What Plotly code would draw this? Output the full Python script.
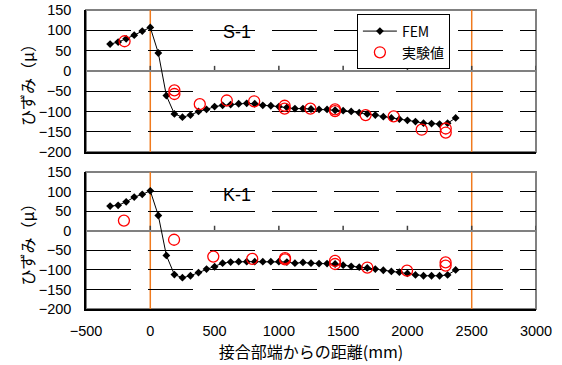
import plotly.graph_objects as go

# ---------------- data ----------------
fem_x = [-312.5, -250, -187.5, -125, -62.5, 0, 62.5, 125, 187.5, 250, 312.5, 375,
         437.5, 500, 562.5, 625, 687.5, 750, 812.5, 875, 937.5, 1000, 1062.5, 1125,
         1187.5, 1250, 1312.5, 1375, 1437.5, 1500, 1562.5, 1625, 1687.5, 1750, 1812.5,
         1875, 1937.5, 2000, 2062.5, 2125, 2187.5, 2250, 2312.5, 2375]

fem_s1 = [66, 71, 79, 88, 98, 107, 44, -61, -106, -114, -109, -100,
          -95, -88, -85, -83, -81, -80, -81, -85, -86, -88, -90, -93,
          -93, -94, -95, -95, -97, -98, -100, -103, -106, -109, -113,
          -116, -119, -122, -125, -129, -130, -131, -129, -116]

fem_k1 = [63, 65, 74, 86, 93, 102, 39, -63, -112, -120, -115, -107,
          -98, -92, -83, -80, -79, -79, -79, -79, -79, -79, -80, -83,
          -81, -83, -84, -84, -85, -88, -91, -93, -95, -98, -101,
          -104, -106, -109, -113, -115, -115, -115, -113, -100]

exp_s1_x = [-200, 187.5, 187.5, 385, 595, 808, 1045, 1045, 1245, 1437, 1437, 1675, 1893, 2111, 2298, 2298]
exp_s1_y = [73, -48, -57, -82, -73, -75, -86, -93, -93, -95, -99, -109, -112, -145, -142, -152]

exp_k1_x = [-205, 185, 490, 793, 1048, 1048, 1437, 1437, 1688, 1997, 2297, 2297]
exp_k1_y = [26, -23, -66, -72, -70, -73, -77, -85, -94, -102, -81, -89]

x_ticks = [-500, 0, 500, 1000, 1500, 2000, 2500, 3000]
y_ticks = [-200, -150, -100, -50, 0, 50, 100, 150]
support_lines = [0, 2500]
panel_labels = ["S-1", "K-1"]

series_names = ["FEM", "実験値"]
x_title = "接合部端からの距離(mm)"
y_title = "ひずみ（μ）"

# ---------------- figure ----------------
LAT = "Liberation Sans, Arial, sans-serif"
JP = "Noto Sans CJK JP, sans-serif"

fig = go.Figure()

panels = [("x", "y", fem_s1, exp_s1_x, exp_s1_y, True),
          ("x2", "y2", fem_k1, exp_k1_x, exp_k1_y, False)]

for xa, ya, fem_y, ex, ey, show in panels:
    fig.add_trace(go.Scatter(
        x=fem_x, y=fem_y, xaxis=xa, yaxis=ya, mode="lines+markers",
        name=series_names[0], showlegend=show,
        line=dict(color="black", width=1),
        marker=dict(symbol="diamond", size=6, color="black"),
    ))
    fig.add_trace(go.Scatter(
        x=ex, y=ey, xaxis=xa, yaxis=ya, mode="markers",
        name=series_names[1], showlegend=show,
        marker=dict(symbol="circle-open", size=11, color="#FF0000",
                    line=dict(width=1.3, color="#FF0000")),
    ))

axis_common = dict(range=[-500, 3000], tickvals=x_ticks, showgrid=False,
                   zeroline=False, showline=True, linecolor="black", linewidth=1.5,
                   ticks="", automargin=False,
                   tickfont=dict(family=LAT, size=14.5, color="black"))
yaxis_common = dict(range=[-200, 150], tickvals=y_ticks, showgrid=True,
                    gridcolor="black", gridwidth=1, griddash="45px,17px",
                    zeroline=True, zerolinecolor="#808080", zerolinewidth=2,
                    showline=True, linecolor="black", linewidth=1.5,
                    ticks="", ticklabelstandoff=10, automargin=False,
                    tickfont=dict(family=LAT, size=14.5, color="black"),
                    title=dict(text=y_title, font=dict(family=JP, size=16, color="black"),
                               standoff=0))

fig.update_layout(
    width=562, height=365,
    margin=dict(l=86, r=26, t=10, b=56),
    paper_bgcolor="white", plot_bgcolor="white",
    xaxis=dict(**axis_common, domain=[0, 1], anchor="y", showticklabels=False),
    yaxis=dict(**yaxis_common, domain=[0.525, 1], anchor="x"),
    xaxis2=dict(**axis_common, domain=[0, 1], anchor="y2", ticklabelstandoff=8,
                title=dict(text=x_title, font=dict(family=JP, size=16, color="black"),
                           standoff=2)),
    yaxis2=dict(**yaxis_common, domain=[0, 0.458], anchor="x2"),
    legend=dict(x=0.602, y=0.985, xanchor="left", yanchor="top",
                bgcolor="white", bordercolor="black", borderwidth=1,
                font=dict(family=JP, size=14, color="black"),
                tracegroupgap=0, itemwidth=34),
    showlegend=True,
)

shapes = []
annotations = []
for (xa, ya, _, _, _, _), label, ylab in zip(panels, panel_labels, [95, 92]):
    xr = xa
    yr = ya
    # gray plot-area frame
    shapes.append(dict(type="rect", xref=f"{xr} domain", yref=f"{yr} domain",
                       x0=0, x1=1, y0=0, y1=1, line=dict(color="#808080", width=2),
                       layer="below"))
    for v in support_lines:
        shapes.append(dict(type="line", xref=xr, yref=f"{yr} domain", x0=v, x1=v,
                           y0=0, y1=1, line=dict(color="#F07A1E", width=1.5),
                           layer="below"))
    for v in x_ticks[1:]:
        shapes.append(dict(type="line", xref=xr, yref=yr, ysizemode="pixel", yanchor=0,
                           x0=v, x1=v, y0=0, y1=5, line=dict(color="#404040", width=1.5),
                           layer="below"))
    annotations.append(dict(text=label, xref=xr, yref=yr, x=675, y=ylab, showarrow=False,
                            font=dict(family=LAT, size=18, color="black")))

fig.update_layout(shapes=shapes, annotations=annotations)

fig.write_html("out.html", config={"displayModeBar": False},
               post_script="document.body.style.margin='0';document.body.style.padding='0';")
